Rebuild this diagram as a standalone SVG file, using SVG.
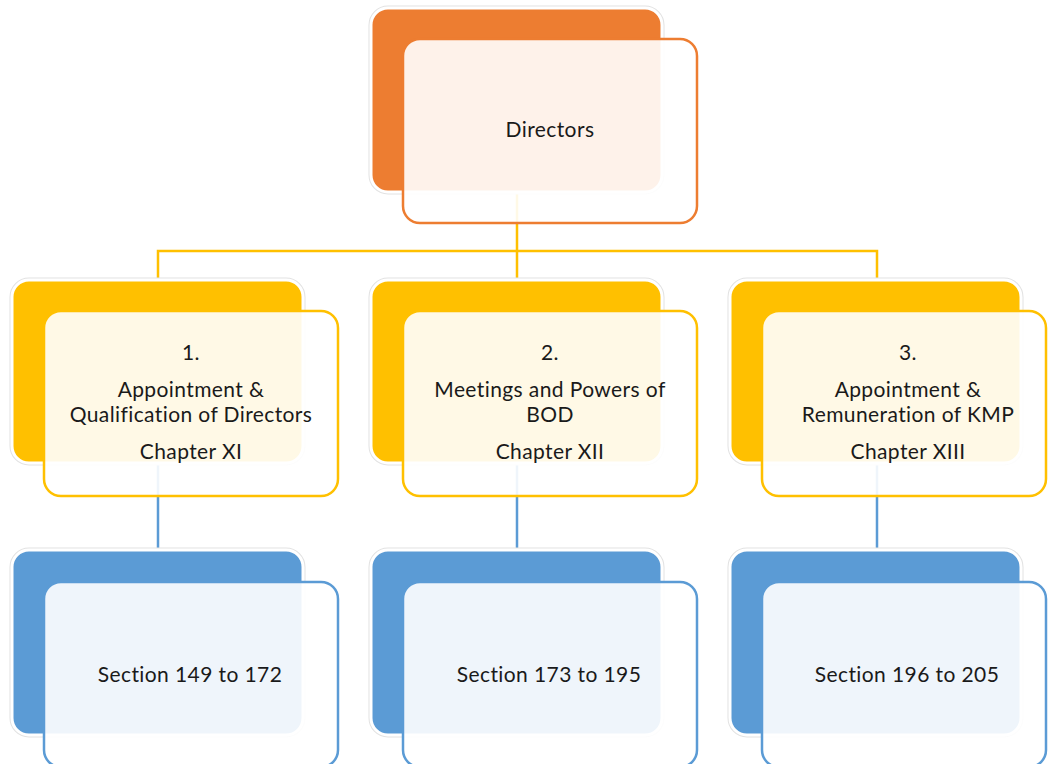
<svg xmlns="http://www.w3.org/2000/svg" width="1048" height="764" viewBox="0 0 1048 764">
<style>
.halo{fill:none;stroke:#e2e2e2;stroke-width:5}
.back{stroke:#ffffff;stroke-width:3}
.front{fill:#ffffff;fill-opacity:0.9;stroke-width:2.5}
.o .back{fill:#ED7D31}.o .front{stroke:#ED7D31}
.y .back{fill:#FFC000}.y .front{stroke:#FFC000}
.b .back{fill:#5B9BD5}.b .front{stroke:#5B9BD5}
.lnY{fill:none;stroke:#FFC000;stroke-width:2.5}
.lnB{fill:none;stroke:#5B9BD5;stroke-width:2.5}
text{font-family:Lato,"Liberation Sans",sans-serif;font-size:21px;letter-spacing:0.4px;fill:#1a1a1a;text-anchor:middle}
</style>
<rect width="1048" height="764" fill="#ffffff"/>
<g id="connectors">
<path class="lnY" d="M517,192 V251 M158,280 V251 H877 V280 M517,251 V280"/>
<path class="lnB" d="M158,463 V550 M517,463 V550 M877,463 V550"/>
</g>
<g id="directors" class="o">
<rect class="halo" x="371" y="8" width="291" height="184" rx="17"/>
<rect class="back" x="371" y="8" width="291" height="184" rx="17"/>
<rect class="front" x="403" y="39" width="294" height="184" rx="17"/>
<text x="550" y="137">Directors</text>
</g>
<g id="chapter11" class="y">
<rect class="halo" x="12" y="280" width="291" height="183" rx="17"/>
<rect class="back" x="12" y="280" width="291" height="183" rx="17"/>
<rect class="front" x="44" y="311" width="294" height="185" rx="17"/>
<text x="191" y="360">1.</text>
<text x="191" y="397">Appointment &amp;</text>
<text x="191" y="422">Qualification of Directors</text>
<text x="191" y="459">Chapter XI</text>
</g>
<g id="chapter12" class="y">
<rect class="halo" x="371" y="280" width="291" height="183" rx="17"/>
<rect class="back" x="371" y="280" width="291" height="183" rx="17"/>
<rect class="front" x="403" y="311" width="294" height="185" rx="17"/>
<text x="550" y="360">2.</text>
<text x="550" y="397">Meetings and Powers of</text>
<text x="550" y="422">BOD</text>
<text x="550" y="459">Chapter XII</text>
</g>
<g id="chapter13" class="y">
<rect class="halo" x="730" y="280" width="291" height="183" rx="17"/>
<rect class="back" x="730" y="280" width="291" height="183" rx="17"/>
<rect class="front" x="762" y="311" width="284" height="185" rx="17"/>
<text x="908" y="360">3.</text>
<text x="908" y="397">Appointment &amp;</text>
<text x="908" y="422">Remuneration of KMP</text>
<text x="908" y="459">Chapter XIII</text>
</g>
<g id="sections1" class="b">
<rect class="halo" x="12" y="550" width="291" height="185" rx="17"/>
<rect class="back" x="12" y="550" width="291" height="185" rx="17"/>
<rect class="front" x="44" y="582" width="294" height="185" rx="17"/>
<text x="190" y="682">Section 149 to 172</text>
</g>
<g id="sections2" class="b">
<rect class="halo" x="371" y="550" width="291" height="185" rx="17"/>
<rect class="back" x="371" y="550" width="291" height="185" rx="17"/>
<rect class="front" x="403" y="582" width="294" height="185" rx="17"/>
<text x="549" y="682">Section 173 to 195</text>
</g>
<g id="sections3" class="b">
<rect class="halo" x="730" y="550" width="291" height="185" rx="17"/>
<rect class="back" x="730" y="550" width="291" height="185" rx="17"/>
<rect class="front" x="762" y="582" width="284" height="185" rx="17"/>
<text x="907" y="682">Section 196 to 205</text>
</g>
</svg>
